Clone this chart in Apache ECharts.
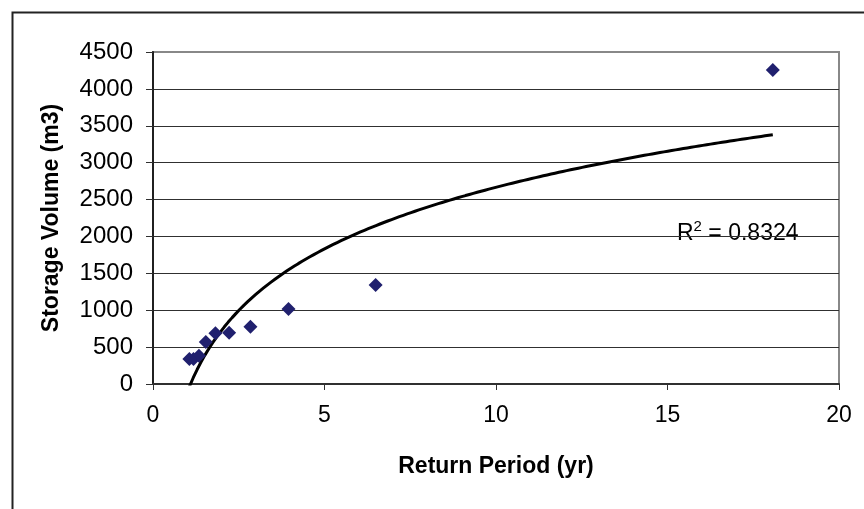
<!DOCTYPE html>
<html>
<head>
<meta charset="utf-8">
<script src="https://cdn.jsdelivr.net/npm/echarts@6/dist/echarts.min.js"></script>
<style>
html,body{margin:0;padding:0;background:#fff;}
#chart{width:864px;height:509px;}
</style>
</head>
<body>
<div id="chart"></div>
<script>
// Data
var returnPeriod = [18.07, 6.49, 3.95, 2.84, 2.22, 1.82, 1.54, 1.34, 1.18, 1.06];
var storageVolume = [4255, 1341, 1016, 776, 695, 687, 569, 383, 339, 339];
var xTicks = { min: 0, max: 20, interval: 5 };
var yTicks = { min: 0, max: 4500, interval: 500 };
var xTitle = 'Return Period (yr)';
var yTitle = 'Storage Volume (m3)';
var r2Label = '0.8324';

// Logarithmic least-squares trendline (as in the spreadsheet): y = a ln(x) + b
var n = returnPeriod.length, sl = 0, sy = 0;
for (var i = 0; i < n; i++) { sl += Math.log(returnPeriod[i]); sy += storageVolume[i]; }
var ml = sl / n, my = sy / n, sxy = 0, sxx = 0;
for (var i = 0; i < n; i++) {
  var dl = Math.log(returnPeriod[i]) - ml;
  sxy += dl * (storageVolume[i] - my); sxx += dl * dl;
}
var a = sxy / sxx, b = my - a * ml;
var xmin = Math.min.apply(null, returnPeriod), xmax = Math.max.apply(null, returnPeriod);
var trend = [];
var steps = 150;
for (var k = 0; k <= steps; k++) {
  var x = xmin + (xmax - xmin) * k / steps;
  trend.push([x, a * Math.log(x) + b]);
}

var points = returnPeriod.map(function (x, i) { return [x, storageVolume[i]]; });

var FONT = "'Liberation Sans', Arial, sans-serif";
var gridColors = [];
var nLines = Math.round((yTicks.max - yTicks.min) / yTicks.interval) + 1;
for (var j = 0; j < nLines; j++) gridColors.push(j === nLines - 1 ? '#888888' : '#303030');

var chart = echarts.init(document.getElementById('chart'));
chart.setOption({
  animation: false,
  backgroundColor: '#ffffff',
  grid: { left: 153, right: 25, top: 52, bottom: 125, show: true, borderColor: '#888888', borderWidth: 2, backgroundColor: 'transparent' },
  xAxis: {
    type: 'value', min: xTicks.min, max: xTicks.max, interval: xTicks.interval,
    name: xTitle, nameLocation: 'middle', nameGap: 71,
    nameTextStyle: { fontFamily: FONT, fontSize: 23, fontWeight: 'bold', color: '#000' },
    axisLine: { lineStyle: { color: '#303030', width: 2 } },
    axisTick: { show: true, length: 6, lineStyle: { color: '#303030', width: 1 } },
    axisLabel: { fontFamily: FONT, fontSize: 23, color: '#000', margin: 20,
      formatter: function (v) { return String(v); } },
    splitLine: { show: false }
  },
  yAxis: {
    type: 'value', min: yTicks.min, max: yTicks.max, interval: yTicks.interval,
    name: yTitle, nameLocation: 'middle', nameGap: 90, nameRotate: 90,
    nameTextStyle: { fontFamily: FONT, fontSize: 23, fontWeight: 'bold', color: '#000' },
    axisLine: { show: true, lineStyle: { color: '#202020', width: 2 } },
    axisTick: { show: true, length: 7, lineStyle: { color: '#303030', width: 1 } },
    axisLabel: { fontFamily: FONT, fontSize: 24, color: '#000', margin: 20,
      formatter: function (v) { return String(v); } },
    splitLine: { show: true, lineStyle: { color: gridColors, width: 1 } }
  },
  series: [
    {
      type: 'line', data: trend, showSymbol: false, symbol: 'none', smooth: false,
      lineStyle: { color: '#000000', width: 3 }, clip: true, z: 2
    },
    {
      type: 'scatter', data: points, symbol: 'diamond', symbolSize: [14, 14],
      itemStyle: { color: '#20206e', opacity: 1 }, z: 3
    }
  ],
  graphic: [
    { type: 'rect', left: 10, top: 10, shape: { x: 0, y: 0, width: 900, height: 600 },
      style: { fill: 'none', stroke: '#222222', lineWidth: 2 }, silent: true },
    { type: 'text', left: 677, top: 219,
      style: { text: '{r|R}{s|2}{r| = ' + r2Label + '}', rich: {
        r: { fontFamily: FONT, fontSize: 23, fill: '#000', verticalAlign: 'bottom', lineHeight: 26 },
        s: { fontFamily: FONT, fontSize: 15, fill: '#000', verticalAlign: 'top', lineHeight: 26, padding: [0, 0, 12, 0] }
      } } }
  ]
});
</script>
</body>
</html>
